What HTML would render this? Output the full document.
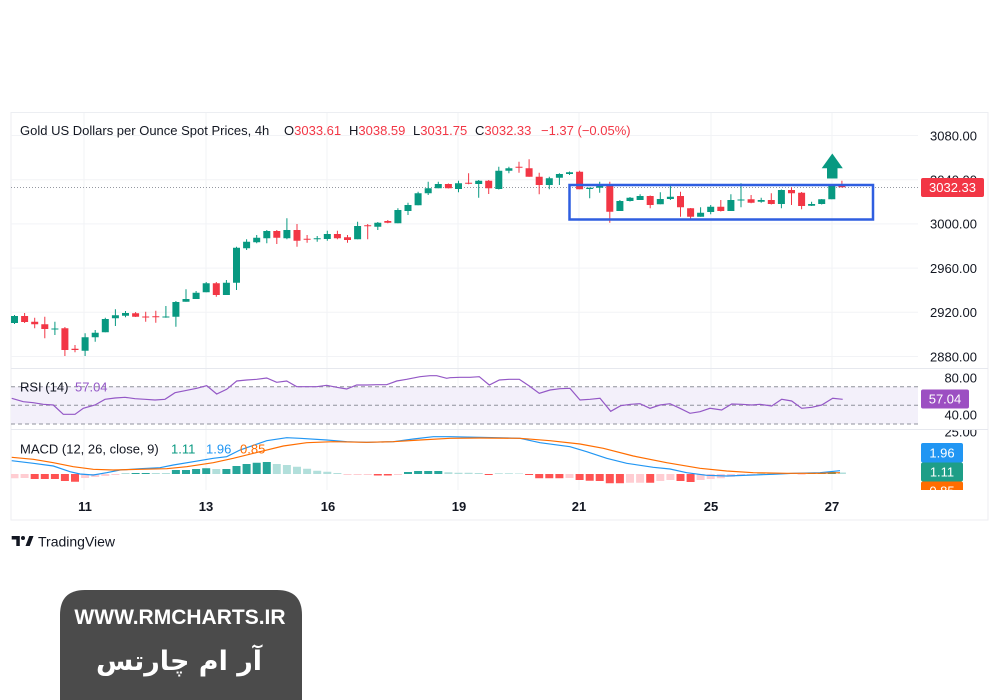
<!DOCTYPE html>
<html><head><meta charset="utf-8"><style>
body{margin:0;background:#fff}
svg{display:block}
text{font-family:"Liberation Sans",sans-serif}
</style></head><body>
<svg width="1000" height="700" viewBox="0 0 1000 700" xmlns="http://www.w3.org/2000/svg">
<defs>
<clipPath id="plot"><rect x="11" y="112" width="907" height="378"/></clipPath>
<clipPath id="macdc"><rect x="900" y="430" width="100" height="60"/></clipPath>
</defs>
<rect width="1000" height="700" fill="#fff"/>
<!-- frame -->
<rect x="11" y="112.5" width="977" height="407.5" fill="none" stroke="#eceef2" stroke-width="1"/>
<!-- grid -->
<g stroke="#f2f3f6" stroke-width="1">
<path d="M84 113V490M206 113V490M327 113V490M458 113V490M579 113V490M711 113V490M832 113V490"/>
<path d="M11 135.5H918M11 179.7H918M11 223.9H918M11 268.1H918M11 312.3H918M11 356.5H918"/>
</g>
<!-- pane separators -->
<path d="M11 368.5H988M11 429.5H988" stroke="#e6e8ee" stroke-width="1"/>
<!-- header -->
<text x="20" y="135" font-size="13" fill="#131722">Gold US Dollars per Ounce Spot Prices, 4h</text>
<text x="284" y="135" font-size="13" fill="#131722">O<tspan fill="#f23645">3033.61</tspan></text>
<text x="349" y="135" font-size="13" fill="#131722">H<tspan fill="#f23645">3038.59</tspan></text>
<text x="413" y="135" font-size="13" fill="#131722">L<tspan fill="#f23645">3031.75</tspan></text>
<text x="475" y="135" font-size="13" fill="#131722">C<tspan fill="#f23645">3032.33</tspan></text>
<text x="541" y="135" font-size="13" fill="#f23645">−1.37 (−0.05%)</text>
<!-- price axis -->
<g font-size="13" fill="#131722" text-anchor="end">
<text x="977" y="140.5">3080.00</text>
<text x="977" y="184.5">3040.00</text>
<text x="977" y="228.7">3000.00</text>
<text x="977" y="272.9">2960.00</text>
<text x="977" y="317.1">2920.00</text>
<text x="977" y="361.3">2880.00</text>
<text x="977" y="382.3">80.00</text>
<text x="977" y="419.7">40.00</text>
</g>
<g clip-path="url(#macdc)"><text x="977" y="436.5" font-size="13" fill="#131722" text-anchor="end">25.00</text></g>
<!-- current price dotted line -->
<path d="M11 187.5H918" stroke="#9598a1" stroke-width="1" stroke-dasharray="1 2"/>
<g clip-path="url(#plot)">
<!-- candles -->
<path fill="none" stroke="#089981" stroke-width="1" d="M14.5 315V324M54.9 321.7V335M85.1 333.3V356M95.2 330V341.7M105.3 317.7V332.3M115.4 309.3V326M125.5 311V317.3M165.9 306V317.7M175.9 301V326.7M186 289.3V301.7M196.1 291V299M206.2 282V292.3M226.4 280V295M236.5 246.7V290M246.6 239.3V250M256.7 235V243.3M266.8 230V243.3M286.9 218.3V239.3M317.2 236V241.7M327.3 230.7V240.7M357.6 221.7V239.3M377.8 222V230M397.9 208.3V223.3M408 202.7V215M418.1 191.7V205.3M428.2 181.7V195M438.3 181.7V188.3M458.5 180.7V192.3M478.7 180V197.7M498.8 166.7V189.5M508.9 166.7V173.3M549.3 176.7V189.3M559.4 173.3V185M569.5 171.5V175M589.7 187.7V198.3M599.7 181.7V192.7M619.9 200V211M630 197V201.5M640.1 194.3V200M660.3 192.3V204.3M670.4 186V200M700.6 207.3V216.7M710.7 205V214.3M730.9 194.3V211M741 183.3V207.3M761.2 197.7V202.7M781.4 189.5V208.3M811.6 201.7V206M821.7 199V204.5M831.8 185.5V199.3"/>
<path fill="none" stroke="#f23645" stroke-width="1" d="M24.6 313V323M34.7 317.7V328.3M44.8 316.7V338.3M64.9 327V356M75 345V352.3M135.6 312V317M145.7 311.7V321.7M155.8 310.7V322.7M216.3 282V296.7M276.8 230V244M297 224V246.7M307.1 235V242.7M337.4 230.7V239.3M347.5 235V242.7M367.7 224V239.3M387.8 220V223.3M448.4 183.5V188.5M468.6 173.3V184.3M488.7 180V194M519 161.7V172.7M529.1 159.3V176.7M539.2 172.7V194.3M579.6 170.7V189.3M609.8 181.7V222.7M650.2 195.5V208.3M680.5 191.7V216.7M690.6 208V220M720.8 200V211.5M751.1 195V203.3M771.3 193.3V204.5M791.5 187.3V205M801.6 192V209.3M841.9 180.7V187.5"/>
<path fill="#089981" d="M11 316h7v7h-7zM51.4 328.5h7v1h-7zM81.6 337.3h7v13.4h-7zM91.7 332.7h7v4.6h-7zM101.8 319h7v13.3h-7zM111.9 315.3h7v3h-7zM122 313h7v2.7h-7zM162.4 316.5h7v1h-7zM172.4 302h7v14.7h-7zM182.5 299h7v2.7h-7zM192.6 292.7h7v6.3h-7zM202.7 283.3h7v9h-7zM222.9 282.7h7v12.3h-7zM233 247.7h7v35h-7zM243.1 241.7h7v6.6h-7zM253.2 237.7h7v4.6h-7zM263.3 231h7v7.3h-7zM283.4 230h7v8.3h-7zM313.7 238.2h7v1h-7zM323.8 234h7v5h-7zM354.1 226h7v13.3h-7zM374.3 222.7h7v4h-7zM394.4 210h7v13.3h-7zM404.5 205h7v6h-7zM414.6 193.3h7v12h-7zM424.7 188.3h7v5h-7zM434.8 184h7v4.3h-7zM455 183.3h7v5.7h-7zM475.2 180.7h7v3.3h-7zM495.3 170.7h7v18.3h-7zM505.4 168.3h7v2.4h-7zM545.8 178.3h7v6.7h-7zM555.9 174h7v3.7h-7zM566 172.3h7v1.7h-7zM586.2 187.7h7v1.3h-7zM596.2 184.3h7v3.4h-7zM616.4 201h7v10h-7zM626.5 197.7h7v3.3h-7zM636.6 196h7v4h-7zM656.8 199h7v5.3h-7zM666.9 196.7h7v2.3h-7zM697.1 212.7h7v4h-7zM707.2 206.7h7v5.3h-7zM727.4 200h7v11h-7zM737.5 199.5h7v1h-7zM757.7 200h7v1.7h-7zM777.9 190h7v14h-7zM808.1 204h7v1.7h-7zM818.2 199.3h7v4.7h-7zM828.3 186h7v13.3h-7z"/>
<path fill="#f23645" d="M21.1 316h7v6h-7zM31.2 321.7h7v2.6h-7zM41.3 324.3h7v4.7h-7zM61.4 328.3h7v21.7h-7zM71.5 348.8h7v1.2h-7zM132.1 313.3h7v3.4h-7zM142.2 316.5h7v1h-7zM152.3 316.2h7v1h-7zM212.8 283.3h7v11.7h-7zM273.3 231h7v6.7h-7zM293.5 230h7v10.7h-7zM303.6 238.8h7v1h-7zM333.9 234h7v4.3h-7zM344 237.3h7v2.7h-7zM364.2 225.2h7v1h-7zM384.3 221h7v1.7h-7zM444.9 184h7v4.3h-7zM465.1 182.8h7v1h-7zM485.2 180.7h7v7.6h-7zM515.5 166.8h7v1h-7zM525.6 168.3h7v8.4h-7zM535.7 176.7h7v8.3h-7zM576.1 171.7h7v17.6h-7zM606.3 185h7v26.7h-7zM646.7 196h7v9h-7zM677 196h7v11.3h-7zM687.1 208.3h7v8.4h-7zM717.3 206.7h7v4.3h-7zM747.6 199.3h7v3.4h-7zM767.8 200h7v4h-7zM788 190h7v3.3h-7zM798.1 192.7h7v13.3h-7zM838.4 186h7v1.3h-7z"/>
<!-- rectangle & arrow -->
<rect x="569.5" y="185" width="303.5" height="34.5" fill="none" stroke="#2f5ee0" stroke-width="2.5"/>
<path fill="#089981" d="M821.7 168.3L832.3 153.5L842.8 168.3H837.5V178.5H827V168.3Z"/>
<!-- RSI -->
<rect x="11" y="386.7" width="907" height="37.3" fill="#f3f0fa"/>
<path d="M11 386.7H918M11 405.3H918M11 424H918" stroke="#8f929c" stroke-width="1" stroke-dasharray="4 3"/>
<polyline fill="none" stroke="#9458c6" stroke-width="1.2" points="11.7,398.3 23.3,401.7 33.3,402.7 43.3,404.3 53.3,405 63.3,414.3 75,414.3 83.3,408.3 95,405 105,399.3 115,398 125,397.3 135,398.7 145,399.3 155,400 165,399.3 175,392.7 185,390.7 196.7,388.3 206.7,385.7 216.7,394 226.7,389.3 236.7,381 246.7,380 256.7,379.3 266.7,378 276.7,382.3 286.7,381 296.7,386.7 306.7,386.7 316.7,386.7 326.7,385.3 336.7,387.3 346.7,389 356.7,385 366.7,385 376.7,384.7 386.7,384.7 396.7,381 406.7,379.3 420,376.7 430,375.7 436.7,375.7 446.7,378.3 450,377.7 460,377.3 470,377.3 479.3,376.7 489.3,385 499.3,380 509.3,379.3 519.3,379.3 529.3,386 539.3,393.3 550,390 560,388.7 570,388.3 580,400 590,399.3 600,398.3 610.7,411.3 620.7,405.7 630.7,404.3 640,403.7 650,408.3 660,405 670,403.7 680,408.3 690,413.3 700,411.7 710,408.3 721.7,410 731.7,404 741.7,404.3 751.7,405 760,404.3 771.7,406 781.7,399.3 791.7,401 801.7,408.3 811.7,407.3 821.7,405 832.7,398.3 842.7,399.3"/>
<!-- MACD histogram -->
<path fill="#ffcdd2" d="M10.5 474h8v4.3h-8zM20.6 474h8v4h-8zM81.1 474h8v4h-8zM91.2 474h8v3h-8zM101.3 474h8v2h-8zM111.4 474h8v1h-8zM343.5 474h8v1h-8zM353.6 474h8v1h-8zM363.7 474h8v1h-8zM393.9 474h8v1h-8zM565.5 474h8v4h-8zM626 474h8v8.7h-8zM636.1 474h8v8.7h-8zM656.3 474h8v7h-8zM666.4 474h8v6h-8zM696.6 474h8v6h-8zM706.7 474h8v5h-8zM716.8 474h8v4.3h-8zM726.9 474h8v2.7h-8zM737 474h8v1.5h-8zM747.1 474h8v1h-8zM797.6 474h8v0.7h-8z"/>
<path fill="#ff5252" d="M30.7 474h8v5h-8zM40.8 474h8v5h-8zM50.9 474h8v5h-8zM60.9 474h8v7h-8zM71 474h8v7.7h-8zM373.8 474h8v1.5h-8zM383.8 474h8v1.5h-8zM484.7 474h8v1h-8zM525.1 474h8v1h-8zM535.2 474h8v4.3h-8zM545.3 474h8v4.3h-8zM555.4 474h8v4.3h-8zM575.6 474h8v6h-8zM585.7 474h8v6.7h-8zM595.7 474h8v7h-8zM605.8 474h8v9.3h-8zM615.9 474h8v9.3h-8zM646.2 474h8v8.7h-8zM676.5 474h8v7h-8zM686.6 474h8v8h-8z"/>
<path fill="#26a69a" d="M131.6 473h8v1h-8zM141.7 473h8v1h-8zM171.9 470h8v4h-8zM182 470h8v4h-8zM192.1 469h8v5h-8zM202.2 468.3h8v5.7h-8zM222.4 469h8v5h-8zM232.5 466h8v8h-8zM242.6 464h8v10h-8zM252.7 462.7h8v11.3h-8zM262.8 462h8v12h-8zM404 472h8v2h-8zM414.1 471h8v3h-8zM424.2 471h8v3h-8zM434.3 471h8v3h-8zM807.6 473h8v1h-8zM817.7 473h8v1h-8zM827.8 472h8v2h-8z"/>
<path fill="#b2dfdb" d="M121.5 473h8v1h-8zM151.8 473h8v1h-8zM161.9 473h8v1h-8zM212.3 469h8v5h-8zM272.8 464h8v10h-8zM282.9 465h8v9h-8zM293 466.7h8v7.3h-8zM303.1 468.7h8v5.3h-8zM313.2 470.7h8v3.3h-8zM323.3 471.7h8v2.3h-8zM333.4 473h8v1h-8zM444.4 472.3h8v1.7h-8zM454.5 472.7h8v1.3h-8zM464.6 472.7h8v1.3h-8zM474.7 473h8v1h-8zM494.8 473.3h8v0.7h-8zM504.9 473.3h8v0.7h-8zM515 473.5h8v0.5h-8zM757.2 473.3h8v0.7h-8zM767.3 473.3h8v0.7h-8zM777.4 473.3h8v0.7h-8zM787.5 473.3h8v0.7h-8zM837.9 472.5h8v1.5h-8z"/>
<polyline fill="none" stroke="#2196f3" stroke-width="1.2" points="11.7,460.7 33.3,463.3 53.3,466 70,471.7 80,474 93.3,475 106.7,472.7 120,470 140,468.7 160,467.7 173.3,465 193.3,461.7 213.3,458.3 226.7,456.7 240,450 266.7,440.7 286.7,437.7 300,438.3 326.7,440 346.7,441.7 366.7,442.3 393.3,441.7 413.3,439 433.3,436.7 450,436.7 480,437.3 520,438.3 540,442.7 570,446.7 586.7,451.7 606.7,458.3 626.7,463.3 653.3,467.3 670,469 686.7,472.7 706.7,475.3 726.7,476 753.3,475 773.3,474.3 793.3,473.3 820,472.7 840,470.7"/>
<polyline fill="none" stroke="#ff6d00" stroke-width="1.2" points="11.7,457.3 33.3,459.3 53.3,462.7 73.3,466.7 93.3,469.3 113.3,470 140,469.3 166.7,468.7 186.7,466.7 213.3,462.7 233.3,458.3 260,451.7 283.3,446 306.7,442.7 333.3,441.7 366.7,442.3 393.3,441.7 420,440 450,438.3 480,438 520,438.3 550,440.7 580,444 603.3,448.3 633.3,456 666.7,462.7 700,468.3 726.7,471 753.3,472.7 786.7,473.3 820,473.3 840,472.7"/>
</g>
<!-- indicator labels -->
<text x="20" y="391.5" font-size="13" fill="#131722">RSI (14)</text>
<text x="75" y="391.5" font-size="13" fill="#9458c6">57.04</text>
<text x="20" y="453.5" font-size="13" fill="#131722">MACD (12, 26, close, 9)</text>
<text x="171" y="453.5" font-size="13" fill="#089981">1.11</text>
<text x="206" y="453.5" font-size="13" fill="#2196f3">1.96</text>
<text x="240" y="453.5" font-size="13" fill="#ff6d00">0.85</text>
<!-- axis price labels -->
<rect x="921" y="178" width="63" height="19" rx="2" fill="#f23645"/>
<text x="952.5" y="192" font-size="13" fill="#fff" text-anchor="middle">3032.33</text>
<rect x="921" y="389.5" width="48" height="19" rx="2" fill="#9c4fc2"/>
<text x="945" y="403.5" font-size="13" fill="#fff" text-anchor="middle">57.04</text>
<g clip-path="url(#macdc)">
<rect x="921" y="443" width="42" height="19.5" rx="2" fill="#2196f3"/>
<text x="942" y="457.3" font-size="13" fill="#fff" text-anchor="middle">1.96</text>
<rect x="921" y="462.5" width="42" height="19" rx="2" fill="#1e9e87"/>
<text x="942" y="476.5" font-size="13" fill="#fff" text-anchor="middle">1.11</text>
<rect x="921" y="481.5" width="42" height="19" rx="2" fill="#ff6d00"/>
<text x="942" y="495.5" font-size="13" fill="#fff" text-anchor="middle">0.85</text>
</g>
<!-- time axis -->
<g font-size="13" font-weight="bold" fill="#131722" text-anchor="middle">
<text x="85" y="511">11</text>
<text x="206" y="511">13</text>
<text x="328" y="511">16</text>
<text x="459" y="511">19</text>
<text x="579" y="511">21</text>
<text x="711" y="511">25</text>
<text x="832" y="511">27</text>
</g>
<!-- TradingView logo -->
<g fill="#131722">
<path d="M11.7 536H19.8V546H16.3V539.5H11.7Z"/>
<circle cx="23" cy="538" r="2"/>
<path d="M25.5 546L29.3 536H33.5L29.7 546Z"/>
</g>
<text x="38" y="546.5" font-size="14" fill="#131722">TradingView</text>
<!-- watermark box -->
<path d="M60 700V615Q60 590 85 590H277Q302 590 302 615V700Z" fill="#4b4b4b"/>
<text x="180" y="624" font-size="21" font-weight="bold" fill="#fff" text-anchor="middle">WWW.RMCHARTS.IR</text>
<text x="179" y="670" font-size="27" font-weight="bold" fill="#fff" text-anchor="middle" style="font-family:'DejaVu Sans',sans-serif" direction="rtl">آر ام چارتس</text>
</svg>
</body></html>
